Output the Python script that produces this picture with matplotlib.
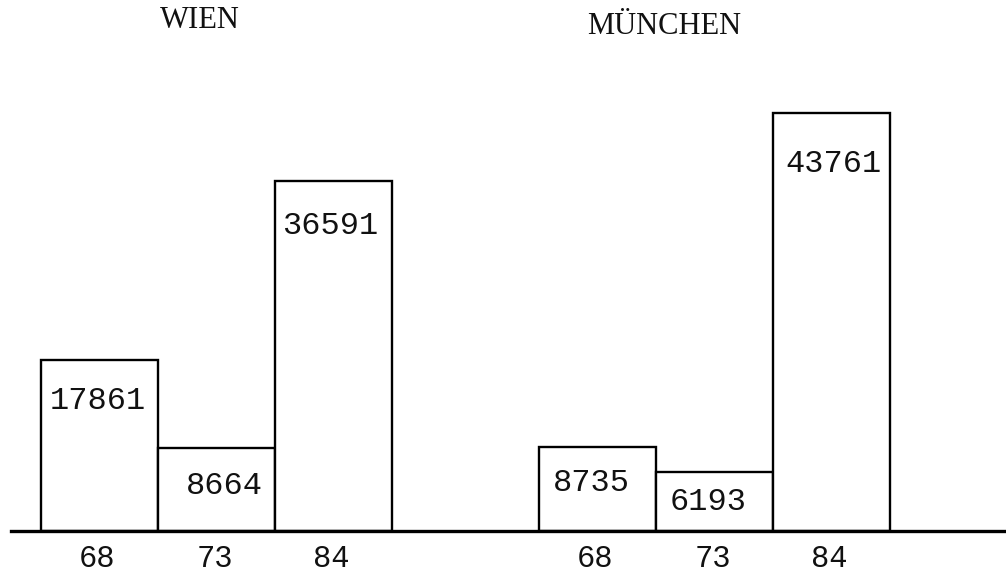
import matplotlib.pyplot as plt

# Daten
staedte = ["WIEN", "MÜNCHEN"]
jahre = ["68", "73", "84"]
wien = [17861, 8664, 36591]
muenchen = [8735, 6193, 43761]

# Layout (Pixel bei dpi=100)
W, H = 1006, 573
basis_px = 531
gruppen_start = [41, 539]
balken_b = 117
titel_pos = [(200, 21), (664, 26)]
# Verschiebung der Zahlen im Balken (dx, dy in Pixel relativ zur Oberkante)
label_off = [[(-2, -41), (8, -38), (-3, -45)],
             [(-6, -36), (-6, -30), (2, -51)]]

fig = plt.figure(figsize=(W / 100, H / 100), dpi=100)
ax = fig.add_axes([0, (H - basis_px) / H, 1, basis_px / H])
ax.set_xlim(0, W)
ax.set_ylim(0, basis_px / 0.00956)
ax.axis("off")

mono = "Liberation Mono"
for g, werte in enumerate([wien, muenchen]):
    xs = [gruppen_start[g] + i * balken_b for i in range(len(werte))]
    ax.bar(xs, werte, width=balken_b, align="edge", facecolor="white",
           edgecolor="black", linewidth=1.7, zorder=2)
    for i, (x, v) in enumerate(zip(xs, werte)):
        dx, dy = label_off[g][i]
        ax.annotate(str(v), (x + balken_b / 2, v), xytext=(dx, dy),
                    textcoords="offset pixels", ha="center", va="center",
                    fontsize=23, family=mono, color="#111111")
        ax.annotate(jahre[i], (x + balken_b / 2, 0), xytext=(-2, -28),
                    textcoords="offset pixels", ha="center", va="center",
                    fontsize=22, family=mono, color="#111111",
                    annotation_clip=False)
    tx, ty = titel_pos[g]
    fig.text(tx / W, 1 - ty / H, staedte[g], ha="center", va="center",
             fontsize=22, family="Liberation Serif", color="#111111")

ax.axhline(0, xmin=11 / W, xmax=1, color="black", linewidth=2.4, zorder=3,
           clip_on=False)

fig.savefig("out.png", dpi=100)
